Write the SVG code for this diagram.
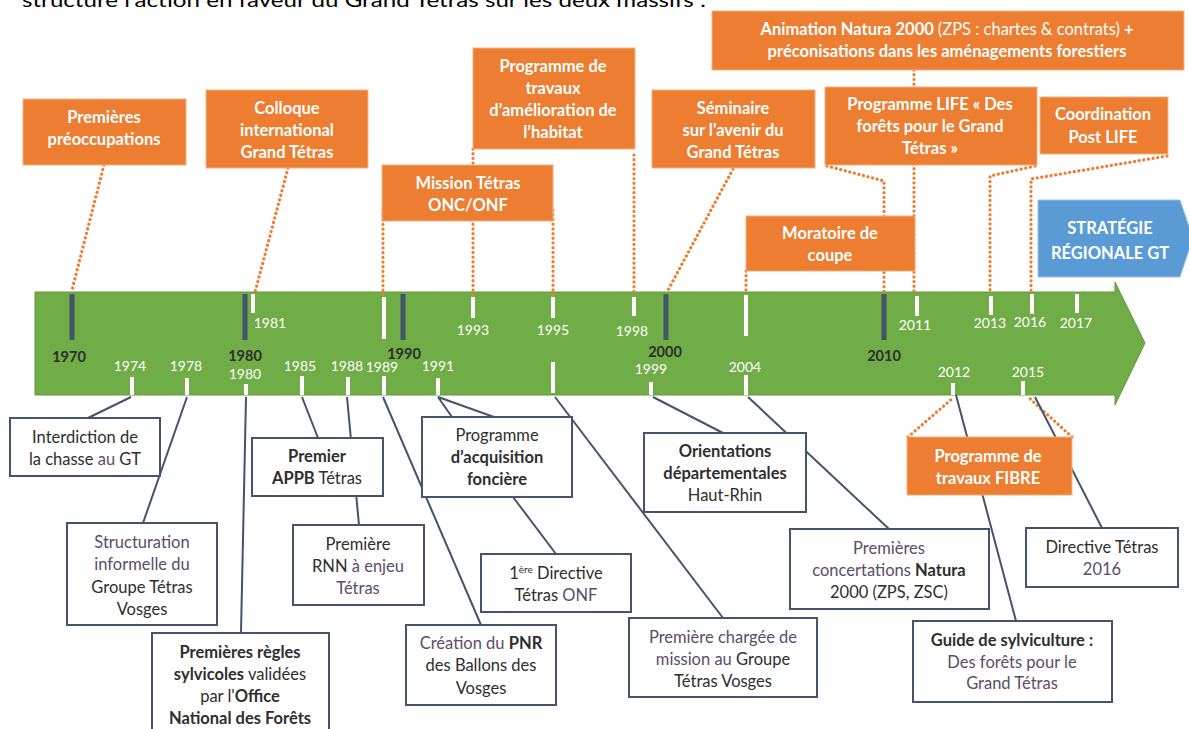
<svg xmlns="http://www.w3.org/2000/svg" width="1189" height="729" viewBox="0 0 1189 729">
<style>
text{font-family:Lato,"Open Sans","Liberation Sans",sans-serif}
.ob{fill:#ED7D31;stroke:#F4B183;stroke-width:1}
.ot{fill:#fff;font-size:16.5px;font-weight:700;text-anchor:middle}
.gb{fill:#fff;stroke:#44546A;stroke-width:2}
.gt{fill:#2e2e2e;font-size:16.5px;text-anchor:middle}
.lt{fill:#5c4c68}
.b{font-weight:700}
.n{font-weight:400}
.dot{fill:none;stroke:#ED7D31;stroke-width:3.2;stroke-linecap:round;stroke-dasharray:0.1 4.6}
.con{fill:none;stroke:#44546A;stroke-width:2}
.dk{stroke:#44546A;stroke-width:5}
.wt{stroke:#fff;stroke-width:4}
.yw{fill:#fff;font-size:14px;text-anchor:middle}
.yd{fill:#2e2e2e;font-size:14.5px;font-weight:700;text-anchor:middle}
</style>
<rect width="1189" height="729" fill="#fff"/>
<text x="22" y="7" font-family="Liberation Sans, Arial, sans-serif" font-size="20" fill="#000" textLength="684" lengthAdjust="spacingAndGlyphs">structure l'action en faveur du Grand Tétras sur les deux massifs :</text>

<g id="axis">
<polygon points="35,292 1115,292 1115,282 1145,343 1115,405 1115,395 35,395" fill="#70AD47" stroke="#5E9A3A" stroke-width="1"/>
<line class="dk" x1="72" y1="294" x2="72" y2="340"/>
<line class="dk" x1="245" y1="294" x2="245" y2="340"/>
<line class="dk" x1="403" y1="294" x2="403" y2="340"/>
<line class="dk" x1="666" y1="294" x2="666" y2="340"/>
<line class="dk" x1="884" y1="294" x2="884" y2="340"/>
<line class="wt" x1="253" y1="294" x2="253" y2="313"/>
<line class="wt" x1="384" y1="297" x2="384" y2="339"/>
<line class="wt" x1="473" y1="297" x2="473" y2="318"/>
<line class="wt" x1="553" y1="297" x2="553" y2="318"/>
<line class="wt" x1="634" y1="297" x2="634" y2="316"/>
<line class="wt" x1="746" y1="295" x2="746" y2="336"/>
<line class="wt" x1="917" y1="296" x2="917" y2="316"/>
<line class="wt" x1="991" y1="296" x2="991" y2="315"/>
<line class="wt" x1="1032" y1="294" x2="1032" y2="314"/>
<line class="wt" x1="1077" y1="294" x2="1077" y2="313"/>
<line class="wt" x1="132" y1="377" x2="132" y2="395"/>
<line class="wt" x1="187" y1="378" x2="187" y2="395"/>
<line class="wt" x1="246" y1="384" x2="246" y2="395"/>
<line class="wt" x1="302" y1="376" x2="302" y2="395"/>
<line class="wt" x1="348" y1="377" x2="348" y2="395"/>
<line class="wt" x1="384" y1="376" x2="384" y2="395"/>
<line class="wt" x1="438" y1="378" x2="438" y2="395"/>
<line class="wt" x1="553" y1="362" x2="553" y2="393"/>
<line class="wt" x1="651" y1="382" x2="651" y2="395"/>
<line class="wt" x1="746" y1="375" x2="746" y2="395"/>
<line class="wt" x1="953" y1="383" x2="953" y2="395"/>
<line class="wt" x1="1023" y1="381" x2="1023" y2="395"/>
<text class="yd" x="69" y="362">1970</text>
<text class="yd" x="245" y="361">1980</text>
<text class="yd" x="404" y="359">1990</text>
<text class="yd" x="665" y="357">2000</text>
<text class="yd" x="884" y="361">2010</text>
<text class="yw" x="270" y="328">1981</text>
<text class="yw" x="473" y="335">1993</text>
<text class="yw" x="553" y="335">1995</text>
<text class="yw" x="632" y="336">1998</text>
<text class="yw" x="915" y="330">2011</text>
<text class="yw" x="990" y="328">2013</text>
<text class="yw" x="1030" y="327">2016</text>
<text class="yw" x="1076" y="328">2017</text>
<text class="yw" x="130" y="371">1974</text>
<text class="yw" x="186" y="371">1978</text>
<text class="yw" x="245" y="379">1980</text>
<text class="yw" x="300" y="371">1985</text>
<text class="yw" x="347" y="371">1988</text>
<text class="yw" x="382" y="372">1989</text>
<text class="yw" x="438" y="371">1991</text>
<text class="yw" x="651" y="374">1999</text>
<text class="yw" x="745" y="372">2004</text>
<text class="yw" x="954" y="377">2012</text>
<text class="yw" x="1028" y="377">2015</text>
</g>

<g id="connectors">
<path class="dot" d="M104,165 L72,290"/>
<path class="dot" d="M288,168 L255,292"/>
<path class="dot" d="M383,215 L383,295"/>
<path class="dot" d="M473,149 L473,295"/>
<path class="dot" d="M553,210 L553,295"/>
<path class="dot" d="M634,155 L634,293"/>
<path class="dot" d="M733,169 L667,292"/>
<path class="dot" d="M746,271 L746,293"/>
<path class="dot" d="M914,70 L914,292"/>
<path class="dot" d="M827,166 L884,181 L884,292"/>
<path class="dot" d="M1035,166 L990,176 L990,292"/>
<path class="dot" d="M1167,156 L1031,179 L1031,292"/>
<path class="dot" d="M908,437 L953,398"/>
<path class="dot" d="M1072,437 L1027,396"/>
<path class="con" d="M131,397 L88,418"/>
<path class="con" d="M187,397 L143,523"/>
<path class="con" d="M246,397 L241,633"/>
<path class="con" d="M302,397 L318,438"/>
<path class="con" d="M347,397 L359,525"/>
<path class="con" d="M383,397 L481,625"/>
<path class="con" d="M438,397 L452,417 M438,397 L494,417"/>
<path class="con" d="M513,497 L556,554"/>
<path class="con" d="M555,397 L723,618"/>
<path class="con" d="M653,397 L723,433"/>
<path class="con" d="M748,397 L889,529"/>
<path class="con" d="M956,395 L1016,621"/>
<path class="con" d="M1035,397 L1102,528" stroke-width="1"/>
</g>

<g id="n-premieres-preoccupations">
<rect class="ob" x="23" y="99" width="163" height="66"/>
<text class="ot" x="104" y="123">Premières</text>
<text class="ot" x="104" y="145">préoccupations</text>
</g>
<g id="n-colloque">
<rect class="ob" x="206" y="90" width="162" height="78"/>
<text class="ot" x="287" y="114">Colloque</text>
<text class="ot" x="287" y="136">international</text>
<text class="ot" x="287" y="158">Grand Tétras</text>
</g>
<g id="n-programme-travaux">
<rect class="ob" x="473" y="48" width="162" height="101"/>
<text class="ot" x="553" y="72">Programme de</text>
<text class="ot" x="553" y="94">travaux</text>
<text class="ot" x="553" y="116">d’amélioration de</text>
<text class="ot" x="553" y="138">l’habitat</text>
</g>
<g id="n-mission">
<rect class="ob" x="382" y="165" width="171" height="56"/>
<text class="ot" x="468" y="189">Mission Tétras</text>
<text class="ot" x="468" y="211">ONC/ONF</text>
</g>
<g id="n-seminaire">
<rect class="ob" x="652" y="90" width="163" height="78"/>
<text class="ot" x="733" y="114">Séminaire</text>
<text class="ot" x="733" y="136">sur l'avenir du</text>
<text class="ot" x="733" y="158">Grand Tétras</text>
</g>
<g id="n-animation">
<rect class="ob" x="712" y="11" width="472" height="59"/>
<text class="ot" x="947" y="35">Animation Natura 2000 <tspan class="n">(ZPS : chartes &amp; contrats)</tspan> +</text>
<text class="ot" x="947" y="57">préconisations dans les aménagements forestiers</text>
</g>
<g id="n-life">
<rect class="ob" x="825" y="87" width="212" height="78"/>
<text class="ot" x="930" y="110">Programme LIFE « Des</text>
<text class="ot" x="930" y="132">forêts pour le Grand</text>
<text class="ot" x="930" y="154">Tétras »</text>
</g>
<g id="n-coordination">
<rect class="ob" x="1040" y="97" width="128" height="57"/>
<text class="ot" x="1103" y="120">Coordination</text>
<text class="ot" x="1103" y="143">Post LIFE</text>
</g>
<g id="n-moratoire">
<rect class="ob" x="746" y="216" width="169" height="55"/>
<text class="ot" x="830" y="239">Moratoire de</text>
<text class="ot" x="830" y="261">coupe</text>
</g>
<g id="n-strategie">
<polygon points="1038,200 1180,200 1193,238 1180,277 1038,277" fill="#5B9BD5" stroke="#9DC3E6" stroke-width="1"/>
<text class="ot" x="1110" y="234" font-size="17.5">STRATÉGIE</text>
<text class="ot" x="1110" y="259" font-size="17.5">RÉGIONALE GT</text>
</g>
<g id="n-fibre">
<rect class="ob" x="907" y="437" width="165" height="58"/>
<text class="ot" x="988" y="462">Programme de</text>
<text class="ot" x="988" y="484">travaux FIBRE</text>
</g>

<g id="n-interdiction">
<rect class="gb" x="10" y="418" width="150" height="58"/>
<text class="gt" x="85" y="443">Interdiction de</text>
<text class="gt" x="85" y="465">la chasse <tspan class="lt">au</tspan> GT</text>
</g>
<g id="n-structuration">
<rect class="gb" x="67" y="523" width="150" height="102"/>
<text class="gt lt" x="142" y="548">Structuration</text>
<text class="gt lt" x="142" y="570">informelle du</text>
<text class="gt" x="142" y="593">Groupe Tétras</text>
<text class="gt" x="142" y="615">Vosges</text>
</g>
<g id="n-regles">
<rect class="gb" x="152" y="633" width="177" height="110"/>
<text class="gt b" x="240" y="658">Premières règles</text>
<text class="gt" x="240" y="680"><tspan class="b">sylvicoles</tspan> validées</text>
<text class="gt" x="240" y="702">par l'<tspan class="b">Office</tspan></text>
<text class="gt b" x="240" y="724">National des Forêts</text>
</g>
<g id="n-appb">
<rect class="gb" x="252" y="438" width="131" height="58"/>
<text class="gt b" x="317" y="462">Premier</text>
<text class="gt" x="317" y="484"><tspan class="b">APPB</tspan> Tétras</text>
</g>
<g id="n-rnn">
<rect class="gb" x="293" y="525" width="131" height="80"/>
<text class="gt" x="358" y="550">Première</text>
<text class="gt" x="358" y="572">RNN <tspan class="lt">à enjeu</tspan></text>
<text class="gt lt" x="358" y="594">Tétras</text>
</g>
<g id="n-acquisition">
<rect class="gb" x="422" y="417" width="150" height="80"/>
<text class="gt" x="497" y="441">Programme</text>
<text class="gt b" x="497" y="463">d’acquisition</text>
<text class="gt b" x="497" y="485">foncière</text>
</g>
<g id="n-directive1">
<rect class="gb" x="481" y="554" width="150" height="58"/>
<text class="gt" x="556" y="579">1<tspan font-size="10" dy="-6">ère</tspan><tspan dy="6"> Directive</tspan></text>
<text class="gt" x="556" y="601">Tétras <tspan class="lt">ONF</tspan></text>
</g>
<g id="n-pnr">
<rect class="gb" x="406" y="625" width="150" height="80"/>
<text class="gt" x="481" y="649"><tspan class="lt">Création du </tspan><tspan class="b">PNR</tspan></text>
<text class="gt" x="481" y="671">des Ballons des</text>
<text class="gt" x="481" y="694">Vosges</text>
</g>
<g id="n-chargee">
<rect class="gb" x="629" y="618" width="188" height="79"/>
<text class="gt lt" x="723" y="643">Première chargée de</text>
<text class="gt" x="723" y="665"><tspan class="lt">mission au </tspan>Groupe</text>
<text class="gt" x="723" y="687">Tétras Vosges</text>
</g>
<g id="n-orientations">
<rect class="gb" x="644" y="433" width="162" height="79"/>
<text class="gt b" x="725" y="457">Orientations</text>
<text class="gt b" x="725" y="479">départementales</text>
<text class="gt" x="725" y="501">Haut-Rhin</text>
</g>
<g id="n-concertations">
<rect class="gb" x="790" y="529" width="199" height="80"/>
<text class="gt lt" x="889" y="554">Premières</text>
<text class="gt" x="889" y="576"><tspan class="lt">concertations </tspan><tspan class="b">Natura</tspan></text>
<text class="gt" x="889" y="598">2000 (ZPS, ZSC)</text>
</g>
<g id="n-guide">
<rect class="gb" x="913" y="621" width="199" height="81"/>
<text class="gt b" x="1012" y="646">Guide de sylviculture :</text>
<text class="gt lt" x="1012" y="668">Des forêts pour le</text>
<text class="gt lt" x="1012" y="689">Grand Tétras</text>
</g>
<g id="n-directive2016">
<rect class="gb" x="1026" y="528" width="152" height="59"/>
<text class="gt" x="1102" y="553">Directive Tétras</text>
<text class="gt lt" x="1102" y="575">2016</text>
</g>
</svg>
